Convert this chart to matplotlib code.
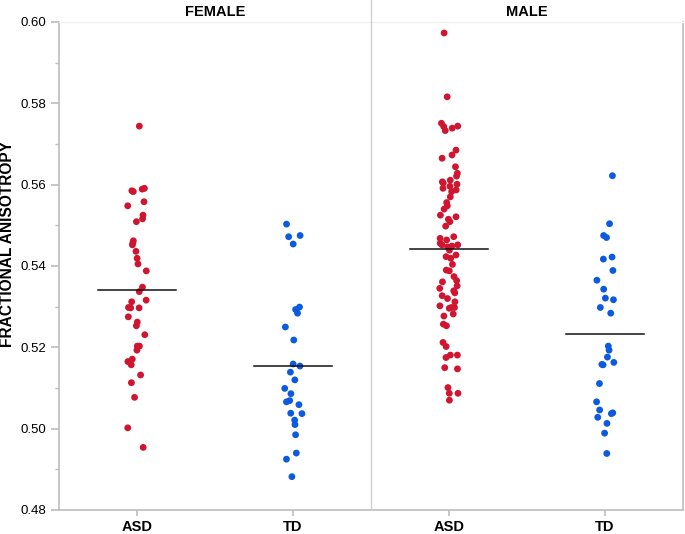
import numpy as np
import matplotlib
matplotlib.use("Agg")
import matplotlib.pyplot as plt
from matplotlib.ticker import MultipleLocator
from matplotlib.lines import Line2D

plt.rcParams['font.family'] = ['Liberation Sans', 'DejaVu Sans']

panels = ["FEMALE", "MALE"]
groups = ["ASD", "TD"]

female_asd = [0.5744, 0.5591, 0.5589, 0.5585, 0.5583, 0.5558, 0.5548, 0.5525, 0.5516, 0.5509,
              0.5462, 0.5457, 0.5452, 0.5436, 0.5419, 0.5405, 0.5388, 0.5348, 0.5337, 0.5316,
              0.5312, 0.5297, 0.5297, 0.5298, 0.5275, 0.5262, 0.5253, 0.5231, 0.5203, 0.5203,
              0.5193, 0.5171, 0.5165, 0.5157, 0.5132, 0.5113, 0.5077, 0.5002, 0.4954]
female_td = [0.5503, 0.5472, 0.5475, 0.5454, 0.5299, 0.5293, 0.5284, 0.5250, 0.5218, 0.5159,
             0.5154, 0.5139, 0.5120, 0.5099, 0.5086, 0.5069, 0.5066, 0.5059, 0.5038, 0.5037,
             0.5021, 0.5010, 0.4985, 0.4940, 0.4925, 0.4882]
male_asd = [0.5973, 0.5816, 0.5751, 0.5744, 0.5743, 0.5739, 0.5733, 0.5685, 0.5673, 0.5665,
            0.5644, 0.5628, 0.5621, 0.5611, 0.5607, 0.5604, 0.5601, 0.5596, 0.5591, 0.5587,
            0.5583, 0.5570, 0.5556, 0.5548, 0.5540, 0.5525, 0.5521, 0.5515, 0.5509, 0.5498,
            0.5472, 0.5468, 0.5464, 0.5456, 0.5452, 0.5452, 0.5449, 0.5447, 0.5439, 0.5427,
            0.5423, 0.5419, 0.5404, 0.5390, 0.5388, 0.5374, 0.5364, 0.5361, 0.5351, 0.5345,
            0.5339, 0.5334, 0.5327, 0.5320, 0.5312, 0.5302, 0.5298, 0.5298, 0.5296, 0.5282,
            0.5277, 0.5257, 0.5253, 0.5212, 0.5202, 0.5181, 0.5181, 0.5175, 0.5150, 0.5147,
            0.5101, 0.5087, 0.5087, 0.5070]
male_td = [0.5622, 0.5504, 0.5470, 0.5475, 0.5422, 0.5417, 0.5389, 0.5365, 0.5343, 0.5321,
           0.5317, 0.5298, 0.5284, 0.5203, 0.5193, 0.5176, 0.5163, 0.5158, 0.5157, 0.5111,
           0.5066, 0.5046, 0.5039, 0.5037, 0.5028, 0.5013, 0.4989, 0.4939]

group_means = {"FEMALE": [0.5340, 0.5155], "MALE": [0.5442, 0.5233]}
data = {"FEMALE": [female_asd, female_td], "MALE": [male_asd, male_td]}

colors = ["#cf1530", "#0c5ae0"]
spine_c = "#bdbdbd"

fig = plt.figure(figsize=(6.85, 5.34), dpi=100)
L, B = 59 / 685, (534 - 510) / 534
W, H = (683 - 59) / 685, 488 / 534
axes = [fig.add_axes([L, B, W / 2, H]), fig.add_axes([L + W / 2, B, W / 2, H])]

rng = np.random.default_rng(7)
for ai, (ax, panel) in enumerate(zip(axes, panels)):
    for gi, g in enumerate(groups):
        vals = np.array(data[panel][gi])
        jit = rng.uniform(-0.06, 0.06, len(vals))
        ax.scatter(gi + jit, vals, s=24, color=colors[gi], edgecolors='none', zorder=3)
        m = group_means[panel][gi]
        ax.plot([gi - 0.25, gi + 0.25], [m, m], color='#111111', lw=1.1, zorder=4)
    ax.set_xlim(-0.5, 1.5)
    ax.set_ylim(0.48, 0.60)
    ax.set_xticks([0, 1])
    ax.set_xticklabels(groups, fontsize=10.5, fontweight='bold')
    ax.tick_params(axis='x', length=4, color=spine_c, width=1.2, pad=3)
    ax.set_title(panel, fontsize=10.5, fontweight='bold', pad=4)
    for s in ['top', 'right', 'left', 'bottom']:
        ax.spines[s].set_color(spine_c)
        ax.spines[s].set_linewidth(1.2)
    ax.spines['top'].set_color('#f2f2f2')
    ax.spines['top'].set_linewidth(1.0)
    if ai == 0:
        ax.spines['right'].set_visible(False)
        ax.yaxis.set_major_locator(MultipleLocator(0.02))
        ax.yaxis.set_minor_locator(MultipleLocator(0.01))
        ax.yaxis.set_major_formatter(matplotlib.ticker.FormatStrFormatter('%.2f'))
        ax.tick_params(axis='y', which='major', length=6, color=spine_c, width=1.2, labelsize=9.5, pad=3)
        ax.tick_params(axis='y', which='minor', length=3, color=spine_c, width=1.0)
        ax.set_ylabel("FRACTIONAL ANISOTROPY", fontsize=11.2, fontweight='bold')
        ax.yaxis.set_label_coords(-0.141, 0.545)
    else:
        ax.spines['left'].set_visible(False)
        ax.set_yticks([])

# panel divider extending to the top of the figure
xdiv = L + W / 2
fig.add_artist(Line2D([xdiv, xdiv], [B, 1.0], transform=fig.transFigure,
                      color='#d0d0d0', lw=1.0, zorder=5))

fig.savefig("out.png", dpi=100)
